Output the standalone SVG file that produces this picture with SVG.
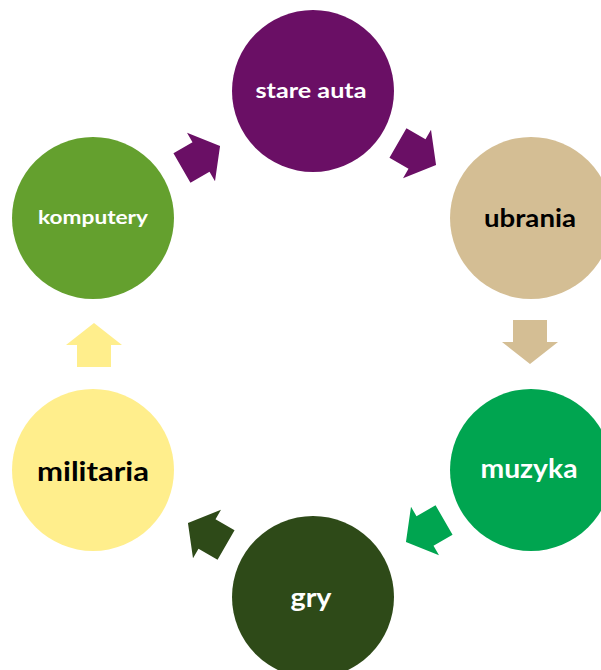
<svg xmlns="http://www.w3.org/2000/svg" width="601" height="670" viewBox="0 0 601 670">
<style>
.t{font-family:Lato,"Liberation Sans",sans-serif;font-weight:bold;text-anchor:middle}
.w{fill:#ffffff}
.b{fill:#000000}
</style>
<defs>
<polygon id="arr" points="-22,-17 0,-17 0,-28 22,0 0,28 0,17 -22,17"/>
</defs>
<rect width="601" height="670" fill="#ffffff"/>
<g id="connectors">
<use href="#arr" fill="#6A0F65" transform="translate(201,157) rotate(-30)"/>
<use href="#arr" fill="#6A0F65" transform="translate(417,154) rotate(30)"/>
<use href="#arr" fill="#D4BE94" transform="translate(530,342) rotate(90)"/>
<use href="#arr" fill="#00A550" transform="translate(425,531) rotate(150)"/>
<use href="#arr" fill="#2E4A18" transform="translate(207,534) rotate(-150)"/>
<use href="#arr" fill="#FFEE8C" transform="translate(94,345) rotate(-90)"/>
</g>
<g id="stare-auta">
<circle cx="313" cy="91" r="81" fill="#6A0F65"/>
<text class="t w" x="311" y="98" font-size="21" textLength="111" lengthAdjust="spacingAndGlyphs">stare auta</text>
</g>
<g id="ubrania">
<circle cx="531" cy="218" r="81" fill="#D4BE94"/>
<text class="t b" x="530" y="227" font-size="25" textLength="92" lengthAdjust="spacingAndGlyphs">ubrania</text>
</g>
<g id="muzyka">
<circle cx="531" cy="470" r="81" fill="#00A550"/>
<text class="t w" x="529" y="478" font-size="26" textLength="97" lengthAdjust="spacingAndGlyphs">muzyka</text>
</g>
<g id="gry">
<circle cx="313" cy="597" r="81" fill="#2E4A18"/>
<text class="t w" x="311" y="607" font-size="26" textLength="41" lengthAdjust="spacingAndGlyphs">gry</text>
</g>
<g id="militaria">
<circle cx="93" cy="470" r="81" fill="#FFEE8C"/>
<text class="t b" x="93" y="481" font-size="26" textLength="112" lengthAdjust="spacingAndGlyphs">militaria</text>
</g>
<g id="komputery">
<circle cx="93" cy="218" r="81" fill="#64A02E"/>
<text class="t w" x="93" y="224" font-size="19" textLength="110" lengthAdjust="spacingAndGlyphs">komputery</text>
</g>
</svg>
